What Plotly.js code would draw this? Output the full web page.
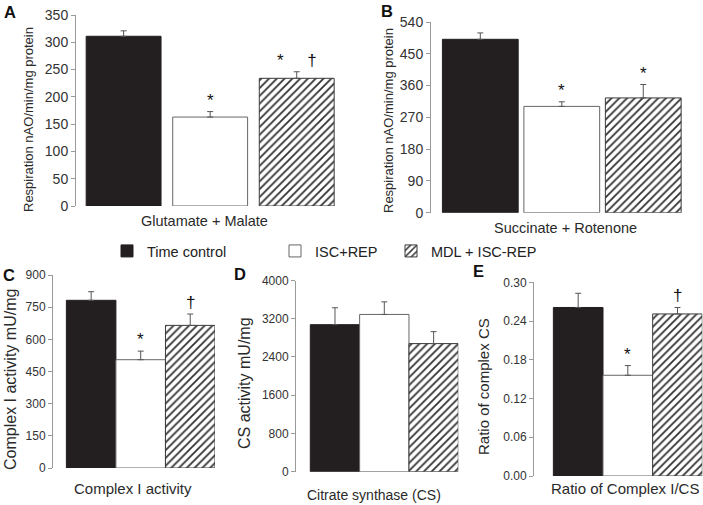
<!DOCTYPE html>
<html>
<head>
<meta charset="utf-8">
<script src="https://cdn.plot.ly/plotly-3.0.1.min.js"></script>
<style>html,body{margin:0;padding:0;background:#fff}#chart{width:703px;height:505px}</style>
</head>
<body>
<div id="chart"></div>
<script>
// ---- Data ----
const groups = ["Time control", "ISC+REP", "MDL + ISC-REP"];

const glutMal      = [311, 163, 234];
const glutMalErr   = [10, 10, 12];
const glutMalSig   = ["", "*", "*     \u2020"];

const succRot      = [491, 301, 325];
const succRotErr   = [18, 13, 38];
const succRotSig   = ["", "*", "*"];

const complexI     = [782, 505, 665];
const complexIErr  = [40, 40, 53];
const complexISig  = ["", "*", "\u2020"];

const citrateSyn    = [3076, 3290, 2680];
const citrateSynErr = [354, 263, 250];
const citrateSynSig = ["", "", ""];

const ratioCICS    = [0.261, 0.156, 0.251];
const ratioCICSErr = [0.022, 0.015, 0.010];
const ratioCICSSig = ["", "*", "\u2020"];

const yTicksA = [0, 50, 100, 150, 200, 250, 300, 350];
const yTicksB = [0, 90, 180, 270, 360, 450, 540];
const yTicksC = [0, 150, 300, 450, 600, 750, 900];
const yTicksD = [0, 800, 1600, 2400, 3200, 4000];
const yTicksE = [0, 0.06, 0.12, 0.18, 0.24, 0.30];

// ---- Styles ----
const W = 703, H = 505;
const FONT = "Liberation Sans, Arial, sans-serif";
const TXT = "#2a2a2a";
const styles = [
  {color: "#231f20", line: {color: "#231f20", width: 1}},
  {color: "#ffffff", line: {color: "#666666", width: 1}},
  {color: "#ffffff", line: {color: "#3a3a3a", width: 1},
   pattern: {shape: "/", fgcolor: "#333333", bgcolor: "#ffffff", size: 5.5, solidity: 0.33}}
];
const legendIds = ["legend", "legend2", "legend3"];

const px = x => x / W;
const py = y => 1 - y / H;

const panels = [
  {vals: glutMal, err: glutMalErr, sig: glutMalSig, ticks: yTicksA, range: [0, 350], fmt: "",
   xd: [76, 340], yd: [15, 206], xr: [-0.55, 2.5], bw: 0.865, tf: 14},
  {vals: succRot, err: succRotErr, sig: succRotSig, ticks: yTicksB, range: [0, 540], fmt: "",
   xd: [431, 684], yd: [22, 212.7], xr: [-0.605, 2.5], bw: 0.93, tf: 14},
  {vals: complexI, err: complexIErr, sig: complexISig, ticks: yTicksC, range: [0, 900], fmt: "",
   xd: [53, 215], yd: [275, 468], xr: [-0.77, 2.5], bw: 1, tf: 12},
  {vals: citrateSyn, err: citrateSynErr, sig: citrateSynSig, ticks: yTicksD, range: [0, 4000], fmt: "",
   xd: [296, 458.3], yd: [280.5, 471.7], xr: [-0.79, 2.5], bw: 1, tf: 12},
  {vals: ratioCICS, err: ratioCICSErr, sig: ratioCICSSig, ticks: yTicksE, range: [0, 0.30], fmt: ".2f",
   xd: [534, 702.3], yd: [282.3, 476], xr: [-0.89, 2.5], bw: 1, tf: 12}
];

const traces = [];
const layout = {
  width: W, height: H,
  margin: {l: 0, r: 0, t: 0, b: 0},
  paper_bgcolor: "#fff", plot_bgcolor: "rgba(0,0,0,0)",
  barmode: "overlay",
  font: {family: FONT, color: TXT},
  annotations: [],
  showlegend: true
};

panels.forEach((p, k) => {
  const n = k === 0 ? "" : String(k + 1);
  const xa = "x" + n, ya = "y" + n;
  groups.forEach((g, i) => {
    traces.push({
      type: "bar",
      x: [g], y: [p.vals[i]],
      xaxis: xa, yaxis: ya,
      name: g,
      width: p.bw,
      marker: styles[i],
      error_y: {type: "data", symmetric: false, array: [p.err[i]], arrayminus: [0],
                color: "#555", thickness: 1, width: 3},
      showlegend: k === 0,
      legend: legendIds[i],
      hoverinfo: "skip"
    });
    if (p.sig[i]) {
      layout.annotations.push({
        xref: xa, yref: ya, x: g, y: p.vals[i] + p.err[i],
        text: p.sig[i], showarrow: false, yanchor: "bottom", yshift: 0,
        font: {size: 17, color: "#111", family: FONT}
      });
    }
  });
  layout["xaxis" + n] = {
    domain: [px(p.xd[0]), px(p.xd[1])], anchor: ya,
    type: "category", categoryarray: groups, range: p.xr,
    showticklabels: false, showline: false, ticks: "", showgrid: false, zeroline: false,
    fixedrange: true
  };
  layout["yaxis" + n] = {
    domain: [py(p.yd[1]), py(p.yd[0])], anchor: xa,
    range: p.range, tickmode: "array", tickvals: p.ticks, tickformat: p.fmt,
    showline: true, linecolor: "#9a9a9a", linewidth: 1,
    ticks: "outside", ticklen: 4, tickcolor: "#9a9a9a", tickwidth: 1,
    showgrid: false, zeroline: false,
    tickfont: {size: p.tf, color: "#333", family: FONT},
    fixedrange: true
  };
});

// Legends (one per group, placed along the middle band)
const legX = [107, 275, 391];
legendIds.forEach((id, i) => {
  layout[id] = {
    x: px(legX[i]), xanchor: "left", y: py(251), yanchor: "middle",
    orientation: "h", bgcolor: "rgba(0,0,0,0)", borderwidth: 0,
    font: {size: 14.5, color: "#222", family: FONT}
  };
});

// Panel letters
const letters = [["A", 10, 12], ["B", 387, 11], ["C", 9, 275], ["D", 240, 274], ["E", 478, 271]];
letters.forEach(([t, x, y]) => layout.annotations.push({
  xref: "paper", yref: "paper", x: px(x), y: py(y), xanchor: "center", yanchor: "middle",
  text: "<b>" + t + "</b>", showarrow: false, font: {size: 16.5, color: "#111", family: FONT}
}));

// Axis titles
const yTitles = [
  ["Respiration nAO/min/mg protein", 28, 120, 13],
  ["Respiration nAO/min/mg protein", 388, 121, 13],
  ["Complex I activity mU/mg", 10, 380, 16],
  ["CS activity mU/mg", 244, 383, 16],
  ["Ratio of complex CS", 483, 387, 15]
];
yTitles.forEach(([t, x, y, s]) => layout.annotations.push({
  xref: "paper", yref: "paper", x: px(x), y: py(y), xanchor: "center", yanchor: "middle",
  text: t, textangle: -90, showarrow: false, font: {size: s, color: TXT, family: FONT}
}));
const xTitles = [
  ["Glutamate + Malate", 204, 221, 14.5],
  ["Succinate + Rotenone", 565, 228, 14.5],
  ["Complex I activity", 133, 488, 15],
  ["Citrate synthase (CS)", 374, 495, 14],
  ["Ratio of Complex I/CS", 625, 488, 15]
];
xTitles.forEach(([t, x, y, s]) => layout.annotations.push({
  xref: "paper", yref: "paper", x: px(x), y: py(y), xanchor: "center", yanchor: "middle",
  text: t, showarrow: false, font: {size: s, color: TXT, family: FONT}
}));

Plotly.newPlot("chart", traces, layout, {staticPlot: true, displayModeBar: false});
</script>
</body>
</html>
